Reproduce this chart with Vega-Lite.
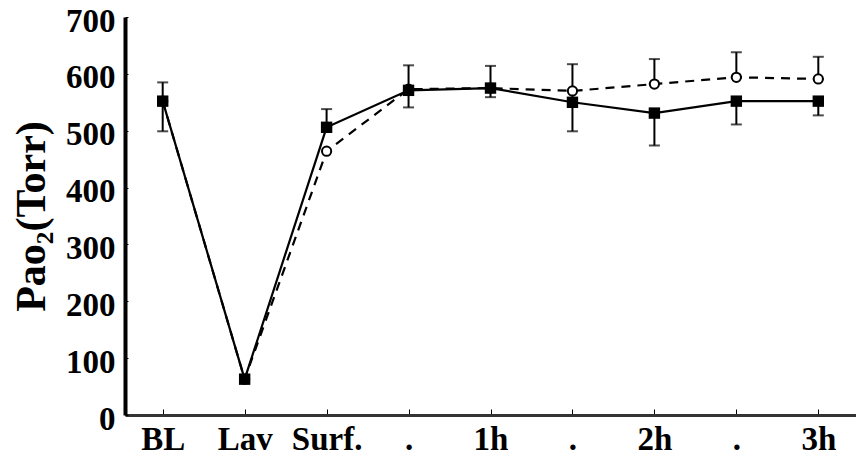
{
  "$schema": "https://vega.github.io/schema/vega-lite/v6.json",
  "width": 731,
  "height": 398,
  "autosize": {"type": "none"},
  "padding": {"left": 125, "top": 17, "right": 0, "bottom": 44},
  "background": "white",
  "config": {
    "view": {"stroke": null},
    "font": "Liberation Serif"
  },
  "datasets": {
    "means": [
      {"group": "surf", "t": 0, "pao2": 552},
      {"group": "surf", "t": 1, "pao2": 63},
      {"group": "surf", "t": 2, "pao2": 506},
      {"group": "surf", "t": 3, "pao2": 571},
      {"group": "surf", "t": 4, "pao2": 575},
      {"group": "surf", "t": 5, "pao2": 550},
      {"group": "surf", "t": 6, "pao2": 531},
      {"group": "surf", "t": 7, "pao2": 552},
      {"group": "surf", "t": 8, "pao2": 552},
      {"group": "ctrl", "t": 0, "pao2": 552},
      {"group": "ctrl", "t": 1, "pao2": 63},
      {"group": "ctrl", "t": 2, "pao2": 464},
      {"group": "ctrl", "t": 3, "pao2": 573},
      {"group": "ctrl", "t": 4, "pao2": 575},
      {"group": "ctrl", "t": 5, "pao2": 570},
      {"group": "ctrl", "t": 6, "pao2": 582},
      {"group": "ctrl", "t": 7, "pao2": 594},
      {"group": "ctrl", "t": 8, "pao2": 591}
    ],
    "errs": [
      {"t": 0, "lo": 499, "hi": 585},
      {"t": 2, "lo": 506, "hi": 538},
      {"t": 3, "lo": 541, "hi": 615},
      {"t": 4, "lo": 559, "hi": 614},
      {"t": 5, "lo": 499, "hi": 617},
      {"t": 6, "lo": 474, "hi": 531},
      {"t": 6, "lo": 582, "hi": 626},
      {"t": 7, "lo": 511, "hi": 552},
      {"t": 7, "lo": 594, "hi": 638},
      {"t": 8, "lo": 527, "hi": 552},
      {"t": 8, "lo": 591, "hi": 630}
    ]
  },
  "encoding": {
    "x": {
      "field": "t",
      "type": "ordinal",
      "scale": {"type": "point", "padding": 0.46},
      "axis": {
        "title": null,
        "labelAngle": 0,
        "labelExpr": "['BL','Lav','Surf.','.','1h','.','2h','.','3h'][datum.value]",
        "labelFont": "Liberation Serif",
        "labelFontWeight": "bold",
        "labelFontSize": 33,
        "labelColor": "black",
        "labelPadding": 14,
        "domainColor": "#333",
        "domainWidth": 3,
        "tickColor": "black",
        "tickWidth": 1,
        "tickSize": -6
      }
    }
  },
  "layer": [
    {
      "data": {"name": "errs"},
      "mark": {"type": "rule", "color": "black", "strokeWidth": 2},
      "encoding": {
        "y": {"field": "lo", "type": "quantitative"},
        "y2": {"field": "hi"}
      }
    },
    {
      "data": {"name": "errs"},
      "mark": {"type": "tick", "color": "black", "size": 11, "thickness": 2},
      "encoding": {"y": {"field": "lo", "type": "quantitative"}}
    },
    {
      "data": {"name": "errs"},
      "mark": {"type": "tick", "color": "black", "size": 11, "thickness": 2},
      "encoding": {"y": {"field": "hi", "type": "quantitative"}}
    },
    {
      "data": {"name": "means"},
      "transform": [{"filter": "datum.group === 'ctrl'"}],
      "mark": {"type": "line", "color": "black", "strokeWidth": 2.2, "strokeDash": [9, 7]},
      "encoding": {
        "y": {"field": "pao2", "type": "quantitative"}
      }
    },
    {
      "data": {"name": "means"},
      "transform": [{"filter": "datum.group === 'surf'"}],
      "mark": {"type": "line", "color": "black", "strokeWidth": 2.2},
      "encoding": {
        "y": {"field": "pao2", "type": "quantitative"}
      }
    },
    {
      "data": {"name": "means"},
      "transform": [{"filter": "datum.group === 'ctrl'"}],
      "mark": {"type": "point", "shape": "circle", "filled": true, "fill": "white", "stroke": "black", "strokeWidth": 2, "size": 85, "opacity": 1},
      "encoding": {
        "y": {"field": "pao2", "type": "quantitative"}
      }
    },
    {
      "data": {"name": "means"},
      "transform": [{"filter": "datum.group === 'surf'"}],
      "mark": {"type": "point", "shape": "square", "filled": true, "color": "black", "size": 130, "opacity": 1},
      "encoding": {
        "y": {
          "field": "pao2",
          "type": "quantitative",
          "scale": {"domain": [0, 700], "nice": false},
          "axis": {
            "title": "Pao₂(Torr)",
            "titleFont": "Liberation Serif",
            "titleFontWeight": "bold",
            "titleFontSize": 42,
            "titleColor": "black",
            "titlePadding": 12,
            "values": [0, 100, 200, 300, 400, 500, 600, 700],
            "grid": false,
            "labelFont": "Liberation Serif",
            "labelFontWeight": "bold",
            "labelFontSize": 33,
            "labelColor": "black",
            "labelPadding": 13,
            "labelOffset": 4,
            "domainColor": "black",
            "domainWidth": 4,
            "tickColor": "black",
            "tickWidth": 1,
            "tickSize": -3
          }
        }
      }
    }
  ]
}
